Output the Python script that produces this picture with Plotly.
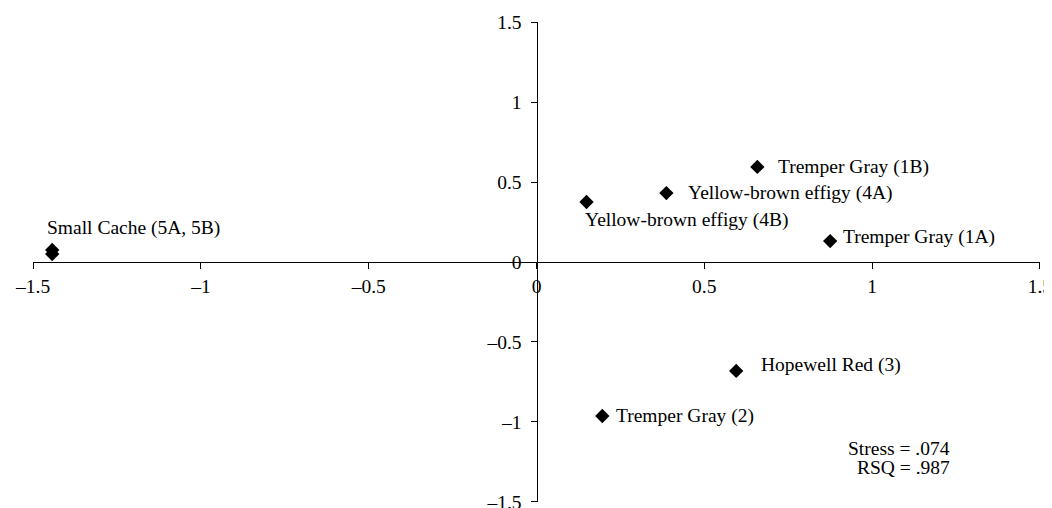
import plotly.graph_objects as go

# Data
labels = ["Small Cache (5A, 5B)", "", "Yellow-brown effigy (4B)", "Yellow-brown effigy (4A)",
          "Tremper Gray (1B)", "Tremper Gray (1A)", "Hopewell Red (3)", "Tremper Gray (2)"]
dim1 = [-1.443, -1.443, 0.149, 0.387, 0.658, 0.875, 0.595, 0.196]
dim2 = [0.075, 0.050, 0.375, 0.431, 0.594, 0.131, -0.681, -0.9625]
tick_vals = [-1.5, -1, -0.5, 0, 0.5, 1, 1.5]
stats_text = ["Stress = .074", "RSQ = .987"]

# Label offsets (pixels) - styling
label_dx = [-7, 0, -4, 20, 19, 11, 23, 12]
label_dy = [22, 0, -18, 0, 0, 4, 6, 0]

FONT = "Times New Roman, Liberation Serif, serif"
FS = 19.5

fig = go.Figure()
fig.add_trace(go.Scatter(
    x=dim1, y=dim2, mode="markers",
    marker=dict(symbol="diamond", size=11, color="black"),
    hoverinfo="skip", showlegend=False,
))

annotations = []
for x, y, t, dx, dy in zip(dim1, dim2, labels, label_dx, label_dy):
    if not t:
        continue
    annotations.append(dict(
        x=x, y=y, xref="x", yref="y", text=t, showarrow=False,
        xanchor="left", yanchor="middle", xshift=dx, yshift=dy,
        font=dict(family=FONT, size=FS, color="black"),
    ))

stats_pos = [0.1125, 0.0729]
for t, yp in zip(stats_text, stats_pos):
    annotations.append(dict(
        x=0.9126, y=yp, xref="paper", yref="paper", text=t, showarrow=False,
        xanchor="right", yanchor="middle",
        font=dict(family=FONT, size=FS, color="black"),
    ))

tick_text = [("\u2013" + f"{abs(v):g}") if v < 0 else f"{v:g}" for v in tick_vals]

axis_common = dict(
    range=[-1.5002, 1.5002], tickvals=tick_vals, ticktext=tick_text,
    showgrid=False, zeroline=False, showline=True, linecolor="black", linewidth=1,
    ticks="outside", ticklen=6, tickcolor="black", tickwidth=1,
    tickfont=dict(family=FONT, size=FS, color="black"),
    anchor="free", position=0.5, fixedrange=True,
    ticklabeloverflow="allow", automargin=False,
)

# page body has an 8px default margin, so the figure is offset by 8px
fig.update_layout(
    width=1052, height=508,
    margin=dict(l=25, r=20, t=14, b=14, autoexpand=False),
    paper_bgcolor="white", plot_bgcolor="white",
    xaxis=dict(**axis_common, ticklabelstandoff=1),
    yaxis=dict(**axis_common, ticklabelstandoff=5),
    annotations=annotations,
    font=dict(family=FONT, color="black"),
)

fig.write_html("out.html", post_script="document.body.style.overflow='hidden';")
